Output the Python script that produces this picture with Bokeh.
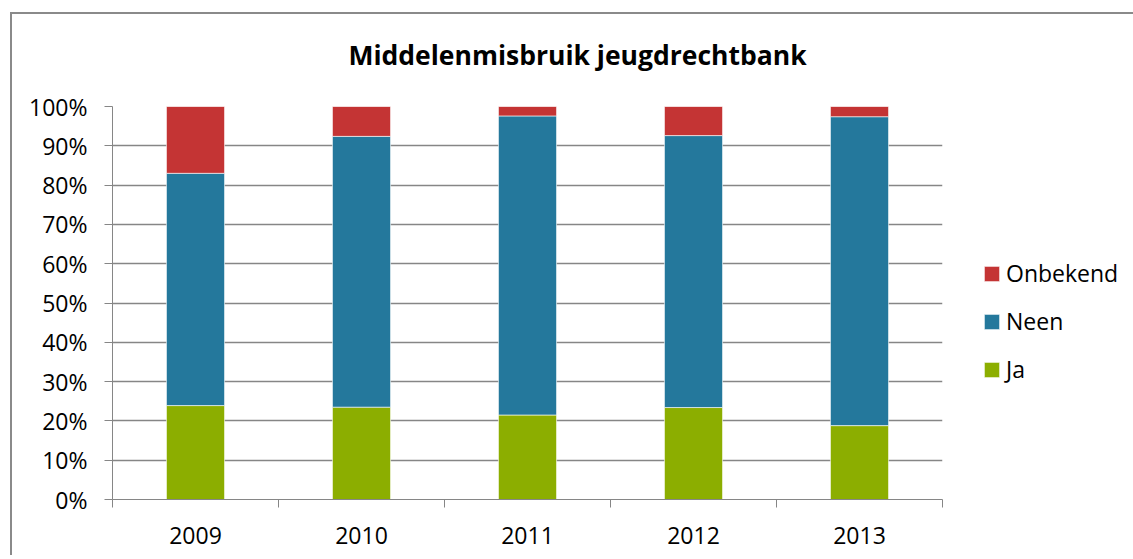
from bokeh.plotting import figure
from bokeh.layouts import row
from bokeh.models import (FixedTicker, PrintfTickFormatter, Legend, LegendItem,
                          Title, Range1d, ColumnDataSource)
from bokeh.embed import file_html
from bokeh.resources import INLINE

years = ["2009", "2010", "2011", "2012", "2013"]
ja = [23.9, 23.5, 21.5, 23.4, 18.8]
neen = [59.1, 68.9, 76.1, 69.2, 78.6]
onbekend = [17.0, 7.6, 2.4, 7.4, 2.6]
series = ["Ja", "Neen", "Onbekend"]
colors = ["#8CAE00", "#24789C", "#C43434"]
y_ticks = [0, 10, 20, 30, 40, 50, 60, 70, 80, 90, 100]

FONT = "Open Sans"
GRID = "#868686"
LINE = "linear-gradient(#8a8a8a, #8a8a8a)"

xs = list(range(1, len(years) + 1))
source = ColumnDataSource(dict(x=xs, Ja=ja, Neen=neen, Onbekend=onbekend))

p = figure(width=960, height=555, output_backend="svg", toolbar_location=None,
           x_range=Range1d(0.5, len(years) + 0.5), y_range=Range1d(0, 100),
           min_border_left=112, min_border_right=18, min_border_top=105,
           min_border_bottom=56, title=None)
p.outline_line_color = None
p.border_fill_color = None
p.background_fill_color = "white"
p.styles = {
    "background-image": LINE + ", " + LINE,
    "background-size": "2px 100%, 100% 2px",
    "background-position": "10px 12px, 10px 12px",
    "background-repeat": "no-repeat",
}

renderers = p.vbar_stack(series, x="x", width=0.35, color=colors, source=source,
                         line_color="white", line_width=0.6)

t = Title(text="Middelenmisbruik jeugdrechtbank", align="left", offset=236,
          text_font=FONT, text_font_size="26.5px", text_font_style="bold",
          text_color="black", standoff=68)
p.add_layout(t, "above")

# x axis
p.xaxis.ticker = FixedTicker(ticks=xs, minor_ticks=[i + 0.5 for i in range(len(years) + 1)])
p.xaxis.major_label_overrides = {x: y for x, y in zip(xs, years)}
p.xaxis.major_tick_line_color = None
p.xaxis.major_tick_out = 8
p.xaxis.major_tick_in = 0
p.xaxis.minor_tick_out = 8
p.xaxis.minor_tick_in = 0
p.xaxis.minor_tick_line_color = GRID
p.xaxis.axis_line_color = GRID
p.xaxis.major_label_standoff = 19
p.xaxis.major_label_text_font = FONT
p.xaxis.major_label_text_font_size = "23px"
p.xaxis.major_label_text_color = "black"

# y axis
p.yaxis.ticker = FixedTicker(ticks=y_ticks)
p.yaxis.formatter = PrintfTickFormatter(format="%d%%")
p.yaxis.major_tick_out = 8
p.yaxis.major_tick_in = 0
p.yaxis.major_tick_line_color = GRID
p.yaxis.minor_tick_line_color = None
p.yaxis.axis_line_color = GRID
p.yaxis.major_label_standoff = 17
p.yaxis.major_label_text_font = FONT
p.yaxis.major_label_text_font_size = "23px"
p.yaxis.major_label_text_color = "black"

p.xgrid.grid_line_color = None
p.ygrid.grid_line_color = GRID
p.ygrid.grid_line_width = 1.3

# legend figure (to the right of the plot area); its bars lie outside its range
lf = figure(width=173, height=555, output_backend="svg", toolbar_location=None,
            x_range=Range1d(-20, -19), y_range=Range1d(0, 100),
            min_border=0, title=None)
lf.axis.visible = False
lf.grid.visible = False
lf.outline_line_color = None
lf.border_fill_color = None
lf.background_fill_color = None
lf.styles = {
    "background-image": LINE,
    "background-size": "100% 2px",
    "background-position": "0px 12px",
    "background-repeat": "no-repeat",
}
leg_r = lf.vbar_stack(series, x="x", width=0.35, color=colors, source=source,
                      line_color="white", line_width=0.6)

items = [LegendItem(label=s, renderers=[r]) for s, r in zip(series, leg_r)][::-1]
legend = Legend(items=items, location=(22, 114), glyph_width=19, glyph_height=19,
                label_standoff=5, spacing=16, padding=0, margin=0,
                border_line_color=None, background_fill_alpha=0,
                label_text_font=FONT, label_text_font_size="23px",
                label_text_color="black")
lf.add_layout(legend, "center")

layout = row(p, lf, spacing=0)

open("out.html", "w").write(file_html(layout, INLINE))
